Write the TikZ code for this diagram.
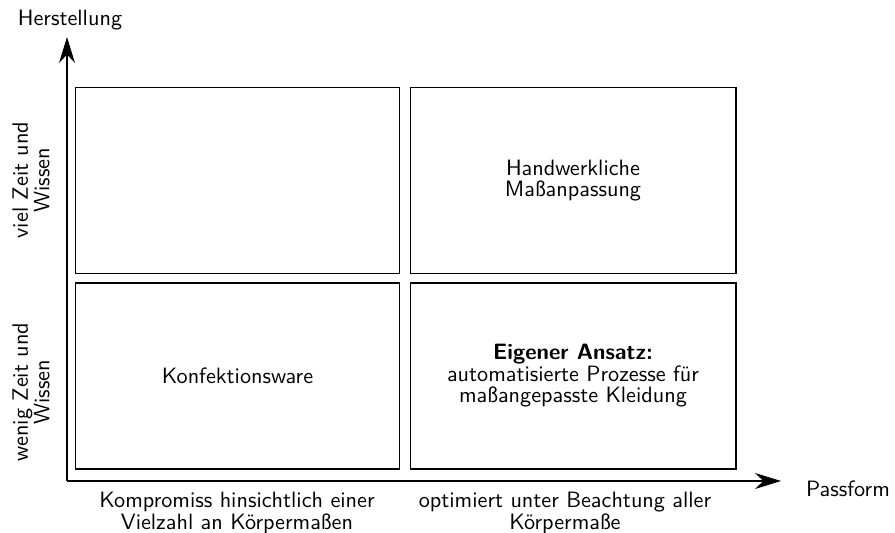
\documentclass[tikz,border=0pt]{standalone}
\usetikzlibrary{arrows.meta}
\begin{document}
\begin{tikzpicture}[x=1pt,y=-1pt,
  every node/.style={font=\sffamily\fontsize{10}{9.7}\selectfont, align=center, inner sep=0pt, scale=2.22},
  quad/.style={draw, line width=1.1pt, minimum width=#1, minimum height=83.8pt},
  axis/.style={line width=1.4pt, -{Stealth[length=26pt,width=16pt]}}]
\useasboundingbox (0,0) rectangle (895,533);
% boxes
\node[quad=146pt] (tl) at (237.5,180.5) {};
\node[quad=146.8pt] (tr) at (573,180.5) {Handwerkliche\\Maßanpassung};
\node[quad=146pt] (bl) at (237.5,376) {Konfektionsware};
\node[quad=146.8pt] (br) at (573,376) {\textbf{Eigener Ansatz:}\\automatisierte Prozesse für\\maßangepasste Kleidung};
% axes
\coordinate (o) at (67,481);
\coordinate (ytip) at (67,37);
\coordinate (xtip) at (781,481);
\draw[axis] (o) -- (ytip);
\draw[axis] (o) -- (xtip);
% axis labels
\node (yl) at (70,20) {Herstellung};
\node (xl) at (848,489) {Passform};
\node[rotate=90] (viel) at (31,180) {viel Zeit und\\Wissen};
\node[rotate=90] (wenig) at (31,392) {wenig Zeit und\\Wissen};
\node (komp) at (237,513) {Kompromiss hinsichtlich einer\\Vielzahl an Körpermaßen};
\node (opt) at (565,513) {optimiert unter Beachtung aller\\Körpermaße};
\end{tikzpicture}
\end{document}
